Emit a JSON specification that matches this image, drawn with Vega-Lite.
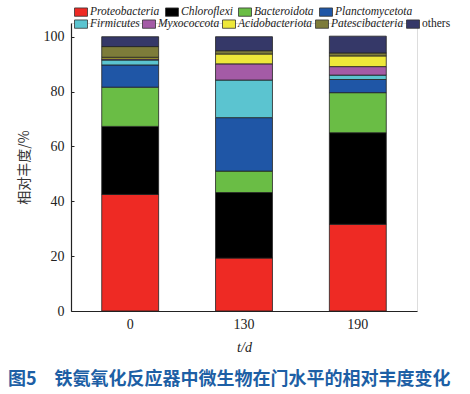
{
  "$schema": "https://vega.github.io/schema/vega-lite/v6.json",
  "width": 346,
  "height": 288,
  "autosize": "none",
  "padding": {"left": 71, "top": 23, "right": 53, "bottom": 83},
  "background": "white",
  "title": {
    "text": "图5　铁氨氧化反应器中微生物在门水平的相对丰度变化",
    "orient": "bottom",
    "anchor": "start",
    "dx": -63,
    "font": "Noto Sans CJK SC",
    "fontSize": 18,
    "fontWeight": "bold",
    "color": "#1d5fa5",
    "offset": 17,
    "frame": "group"
  },
  "data": {
    "values": [
      {"day": "0", "taxon": "Proteobacteria", "rank": 1, "value": 42.5},
      {"day": "0", "taxon": "Chloroflexi", "rank": 2, "value": 24.8},
      {"day": "0", "taxon": "Bacteroidota", "rank": 3, "value": 14.3},
      {"day": "0", "taxon": "Planctomycetota", "rank": 4, "value": 8.1},
      {"day": "0", "taxon": "Firmicutes", "rank": 5, "value": 1.8},
      {"day": "0", "taxon": "Myxococcota", "rank": 6, "value": 0.4},
      {"day": "0", "taxon": "Acidobacteriota", "rank": 7, "value": 0.6},
      {"day": "0", "taxon": "Patescibacteria", "rank": 8, "value": 3.9},
      {"day": "0", "taxon": "others", "rank": 9, "value": 3.6},
      {"day": "130", "taxon": "Proteobacteria", "rank": 1, "value": 19.3},
      {"day": "130", "taxon": "Chloroflexi", "rank": 2, "value": 23.9},
      {"day": "130", "taxon": "Bacteroidota", "rank": 3, "value": 7.8},
      {"day": "130", "taxon": "Planctomycetota", "rank": 4, "value": 19.5},
      {"day": "130", "taxon": "Firmicutes", "rank": 5, "value": 13.7},
      {"day": "130", "taxon": "Myxococcota", "rank": 6, "value": 5.9},
      {"day": "130", "taxon": "Acidobacteriota", "rank": 7, "value": 3.6},
      {"day": "130", "taxon": "Patescibacteria", "rank": 8, "value": 1.2},
      {"day": "130", "taxon": "others", "rank": 9, "value": 5.1},
      {"day": "190", "taxon": "Proteobacteria", "rank": 1, "value": 31.6},
      {"day": "190", "taxon": "Chloroflexi", "rank": 2, "value": 33.4},
      {"day": "190", "taxon": "Bacteroidota", "rank": 3, "value": 14.6},
      {"day": "190", "taxon": "Planctomycetota", "rank": 4, "value": 4.8},
      {"day": "190", "taxon": "Firmicutes", "rank": 5, "value": 1.6},
      {"day": "190", "taxon": "Myxococcota", "rank": 6, "value": 3.1},
      {"day": "190", "taxon": "Acidobacteriota", "rank": 7, "value": 3.9},
      {"day": "190", "taxon": "Patescibacteria", "rank": 8, "value": 1.1},
      {"day": "190", "taxon": "others", "rank": 9, "value": 6.1}
    ]
  },
  "transform": [
    {"stack": "value", "groupby": ["day"], "sort": [{"field": "rank", "order": "ascending"}], "as": ["y0", "y1"]}
  ],
  "encoding": {
    "x": {
      "field": "day", "type": "nominal", "sort": ["0", "130", "190"],
      "scale": {"paddingInner": 0.5, "paddingOuter": 0.27},
      "axis": {
        "title": "t/d", "labelAngle": 0, "ticks": false,
        "labelFont": "Liberation Serif, DejaVu Serif, serif", "labelFontSize": 14, "labelColor": "#222",
        "labelPadding": 6,
        "titleFont": "Liberation Serif, DejaVu Serif, serif", "titleFontSize": 14, "titleFontWeight": "normal", "titleFontStyle": "italic",
        "titleColor": "#222", "titlePadding": 9,
        "domainColor": "#222", "domainWidth": 1.2
      }
    },
    "y": {
      "field": "y0", "type": "quantitative",
      "scale": {"domain": [0, 105], "nice": false},
      "axis": {
        "title": "相对丰度/%", "values": [0, 20, 40, 60, 80, 100], "grid": false,
        "tickSize": -3, "tickColor": "#222", "labelPadding": 10,
        "labelFont": "Liberation Serif, DejaVu Serif, serif", "labelFontSize": 14, "labelColor": "#222",
        "titleFont": "Noto Sans CJK SC", "titleFontSize": 14, "titleFontWeight": "normal",
        "titleColor": "#333", "titlePadding": 12,
        "domainColor": "#222", "domainWidth": 1.2
      }
    },
    "y2": {"field": "y1"}
  },
  "layer": [
    {
      "transform": [{"filter": "datum.rank <= 4"}],
      "mark": {"type": "bar", "stroke": "#222", "strokeWidth": 0.8},
      "encoding": {
        "fill": {
          "field": "taxon", "type": "nominal",
          "scale": {
            "domain": ["Proteobacteria", "Chloroflexi", "Bacteroidota", "Planctomycetota"],
            "range": ["#ee2a24", "#000000", "#6abd45", "#1f56a6"]
          },
          "legend": {
            "orient": "none", "legendX": 3, "legendY": -18, "direction": "horizontal",
            "columns": 4, "title": null, "columnPadding": 3,
            "symbolType": "M-1,-0.64L1,-0.64L1,0.64L-1,0.64Z", "symbolSize": 169,
            "symbolStrokeColor": "#333", "symbolStrokeWidth": 0.8,
            "labelFont": "Liberation Serif, DejaVu Serif, serif", "labelFontSize": 11.5, "labelColor": "#222",
            "labelOffset": 2,
            "encode": {"labels": {"update": {"fontStyle": {"value": "italic"}}}}
          }
        }
      }
    },
    {
      "transform": [{"filter": "datum.rank >= 5"}],
      "mark": {"type": "bar", "stroke": "#222", "strokeWidth": 0.8},
      "encoding": {
        "fill": {
          "field": "taxon", "type": "nominal",
          "scale": {
            "domain": ["Firmicutes", "Myxococcota", "Acidobacteriota", "Patescibacteria", "others"],
            "range": ["#5bc4d0", "#a45ba6", "#eee83a", "#7d7c3a", "#353868"]
          },
          "legend": {
            "orient": "none", "legendX": 3, "legendY": -6, "direction": "horizontal",
            "columns": 5, "title": null, "columnPadding": 0,
            "symbolType": "M-1,-0.64L1,-0.64L1,0.64L-1,0.64Z", "symbolSize": 169,
            "symbolStrokeColor": "#333", "symbolStrokeWidth": 0.8,
            "labelFont": "Liberation Serif, DejaVu Serif, serif", "labelFontSize": 11.5, "labelColor": "#222",
            "labelOffset": 2,
            "encode": {"labels": {"update": {"fontStyle": {"signal": "datum.label === 'others' ? 'normal' : 'italic'"}}}}
          }
        }
      }
    }
  ],
  "resolve": {"scale": {"fill": "independent"}, "legend": {"fill": "independent"}}
}
